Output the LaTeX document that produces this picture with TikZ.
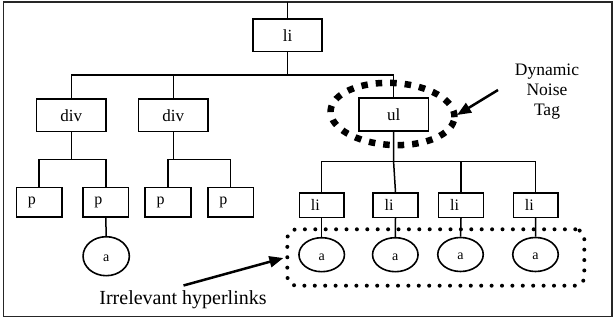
\documentclass[tikz,border=0pt]{standalone}
\usepackage{fontspec}
\setmainfont{Liberation Serif}
\usetikzlibrary{shapes.geometric,arrows.meta}
\begin{document}
\begin{tikzpicture}[x=1pt,y=-1pt,
  tag/.style={draw,line width=1.6pt,inner sep=0pt,font=\fontsize{17}{20}\selectfont},
  bigtag/.style={tag,minimum width=69.5pt,minimum height=32.8pt},
  ptag/.style={tag,font=\fontsize{16}{19}\selectfont,text width=22.7pt,inner xsep=11.5pt,
    align=left,minimum height=29.6pt},
  litag/.style={tag,font=\fontsize{16}{19}\selectfont,text width=21.7pt,inner xsep=11.5pt,
    align=left,minimum height=24.3pt},
  link/.style={draw,ellipse,line width=1.6pt,inner sep=0pt,minimum width=45.5pt,
    minimum height=34pt,font=\fontsize{14}{16}\selectfont,text height=11pt,text depth=0pt},
  wire/.style={line width=1.5pt},
  noiseline/.style={line width=6.5pt,dash pattern=on 6.5pt off 8pt},
  dotline/.style={line width=4pt,line cap=round,dash pattern=on 0pt off 10.4pt},
  pointer/.style={line width=2.5pt,-{Triangle[length=14pt,width=11pt]}}
]
\useasboundingbox (0,0) rectangle (616,320);
\draw[line width=1.8pt,black!85] (3.5,2) rectangle (612,316.5);

% tree of tags
\node[bigtag] (root) at (287.5,35.3) {li};
\node[bigtag] (div1) at (71.3,115.2) {div};
\node[bigtag] (div2) at (173.3,115.2) {div};
\node[bigtag] (ul) at (393.7,114.7) {ul};

\node[ptag] (p1) at (39.2,202.5) {p};
\node[ptag] (p2) at (105.8,202.5) {p};
\node[ptag] (p3) at (168,202.5) {p};
\node[ptag] (p4) at (230.7,202.5) {p};

\node[litag] (li1) at (321.7,205.2) {li};
\node[litag] (li2) at (395.5,205.2) {li};
\node[litag] (li3) at (461,205.2) {li};
\node[litag] (li4) at (535.7,205.2) {li};

\node[link,minimum width=46.3pt,minimum height=39pt] (a0) at (106.2,256.2) {a\hspace{9pt}};
\node[link] (a1) at (321.7,254.7) {a\hspace{9pt}};
\node[link] (a2) at (395.3,254.7) {a\hspace{9pt}};
\node[link] (a3) at (460.5,254.5) {a\hspace{9pt}};
\node[link] (a4) at (535.5,254.5) {a\hspace{9pt}};

% connectors
\coordinate (rootin) at (287.5,2);
\draw[wire] (rootin) -- (root.north);
\coordinate (j0) at (287.5,75);
\draw[wire] (root.south) -- (j0);
\draw[wire] (div1.north) |- (j0) -| (ul.north);
\draw[wire] (div2.north) -- (div2.north |- j0);

\coordinate (j1) at (71.3,159.3);
\draw[wire] (div1.south) -- (j1);
\draw[wire] (p1.north) |- (j1) -| (p2.north);
\coordinate (j2) at (173.3,159.3);
\draw[wire] (div2.south) -- (j2);
\draw[wire] (p3.north) |- (j2) -| (p4.north);

\coordinate (j3) at (393.6,161.7);
\draw[wire] (ul.south) -- (j3) -- (li2.north);
\draw[wire] (li1.north) |- (j3) -| (li4.north);
\draw[wire] (li3.north) -- (li3.north |- j3);

\draw[wire] (p2.south) -- (a0.north);
\draw[wire] (li1.south) -- (a1.north);
\draw[wire] (li2.south) -- (a2.north);
\draw[wire] (li3.south) -- (a3.north);
\draw[wire] (li4.south) -- (a4.north);

% highlighted groups
\node[draw,noiseline,ellipse,minimum width=124pt,minimum height=62pt,rotate=-3,inner sep=0pt]
  (noise) at (392.5,114) {};
\node[draw,dotline,rounded corners=9pt,minimum width=297pt,minimum height=56.4pt,inner sep=0pt]
  (links) at (435.8,257.5) {};

% callouts
\node[font=\fontsize{17.5}{20}\selectfont,align=center,inner sep=0pt] (dyn) at (547,91.4)
  {Dynamic\\Noise\\Tag};
\coordinate (dynfrom) at (498,90);
\coordinate (dynto) at (457,115);
\draw[pointer] (dynfrom) -- (dynto);

\node[font=\fontsize{20}{24}\selectfont,anchor=base,inner sep=0pt] (irr) at (183,305)
  {Irrelevant hyperlinks};
\coordinate (irrfrom) at (183.5,285.5);
\draw[pointer,shorten >=2pt] (irrfrom) -- (links.west);
\end{tikzpicture}
\end{document}
